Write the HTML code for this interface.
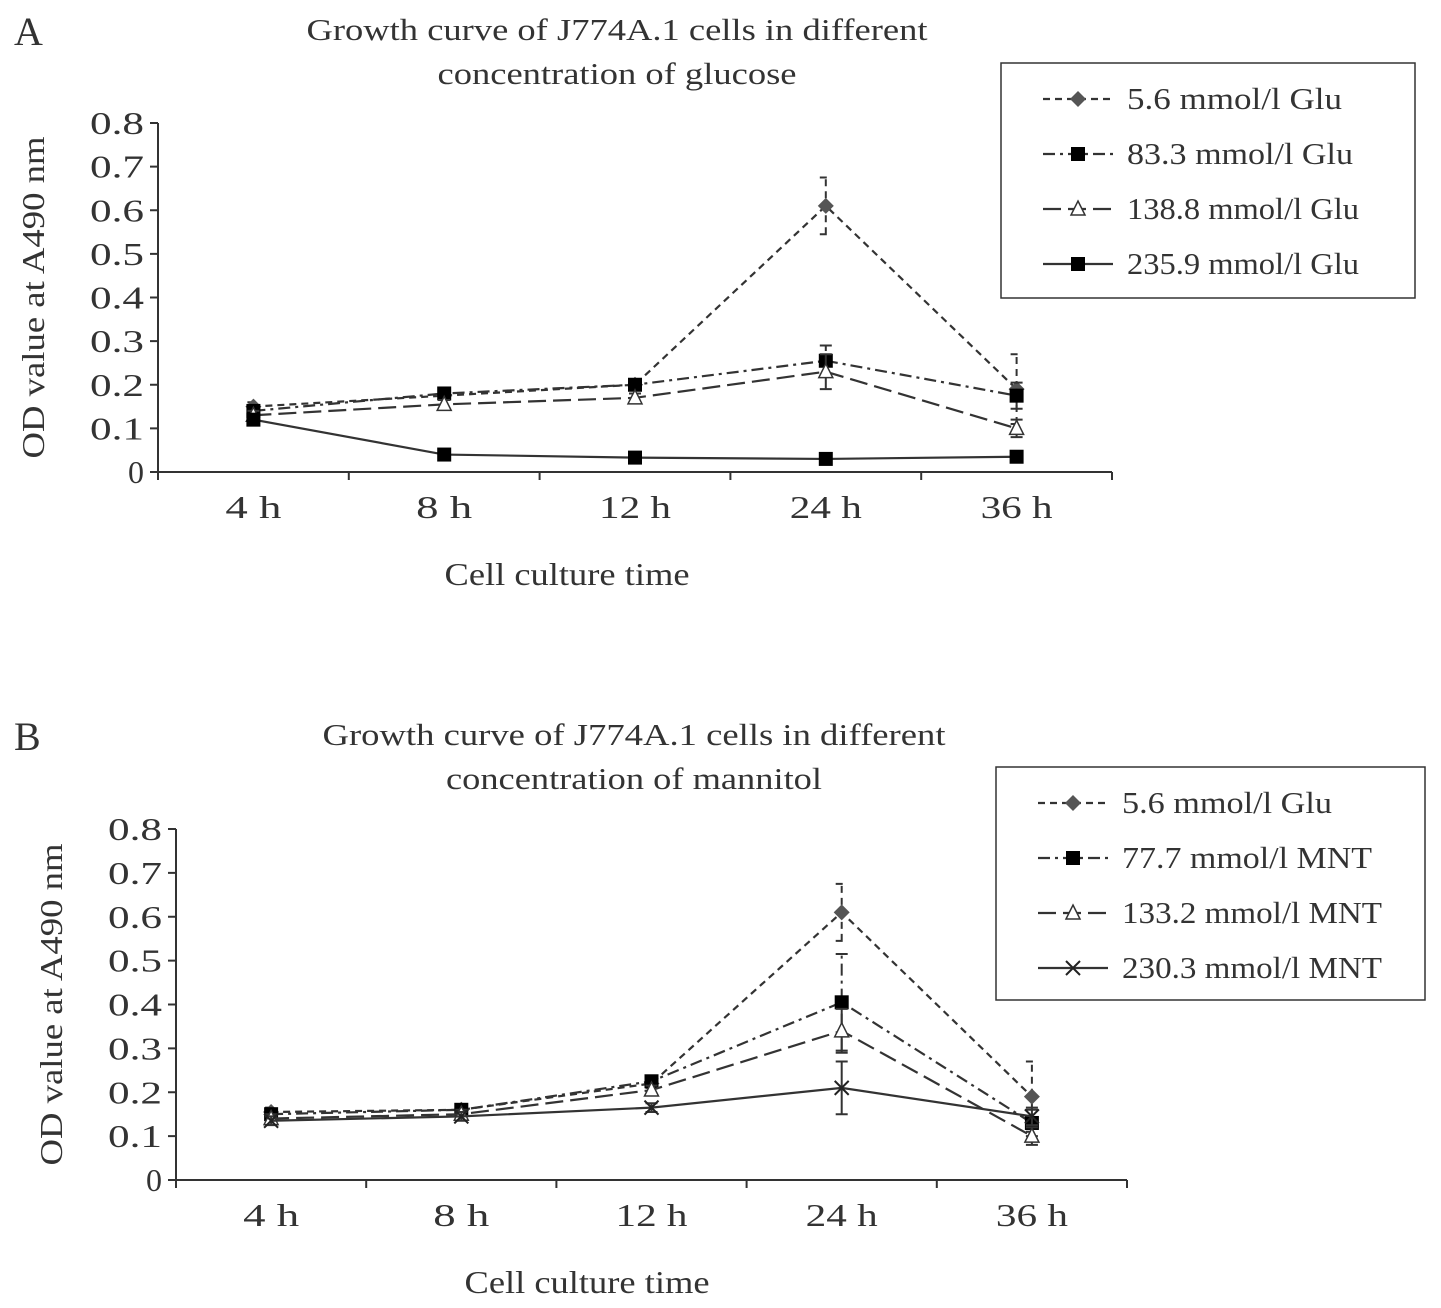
<!DOCTYPE html>
<html><head><meta charset="utf-8"><style>
body{margin:0;background:#fff}
svg text{font-family:"Liberation Serif",serif;fill:#333}
</style></head><body>
<svg id="s" width="1441" height="1303" xmlns="http://www.w3.org/2000/svg"></svg>
<script>
const categories=["4 h","8 h","12 h","24 h","36 h"];
const yTicks=[0,0.1,0.2,0.3,0.4,0.5,0.6,0.7,0.8];
const aNames=["5.6 mmol/l  Glu","83.3 mmol/l  Glu","138.8 mmol/l Glu","235.9 mmol/l Glu"];
const aS1=[0.15,0.175,0.2,0.61,0.19];
const aS2=[0.14,0.18,0.2,0.255,0.175];
const aS3=[0.13,0.155,0.17,0.23,0.1];
const aS4=[0.12,0.04,0.033,0.03,0.035];
const aErr1=[0.01,0.01,0.01,0.065,0.08];
const aErr2=[0.01,0.01,0.01,0.035,0.03];
const aErr3=[0.01,0.01,0.01,0.04,0.02];
const bNames=["5.6 mmol/l Glu","77.7 mmol/l MNT","133.2 mmol/l MNT","230.3 mmol/l MNT"];
const bS1=[0.155,0.16,0.22,0.61,0.19];
const bS2=[0.15,0.16,0.225,0.405,0.13];
const bS3=[0.14,0.15,0.205,0.34,0.1];
const bS4=[0.135,0.145,0.165,0.21,0.145];
const bErr1=[0.01,0.01,0.01,0.065,0.08];
const bErr2=[0.01,0.01,0.01,0.11,0.03];
const bErr3=[0.01,0.01,0.01,0.05,0.02];
const bErr4=[0.01,0.01,0.01,0.06,0.02];
const svg=document.getElementById('s');
const NS="http://www.w3.org/2000/svg";
function el(t,a,p){const e=document.createElementNS(NS,t);for(const k in a)e.setAttribute(k,a[k]);(p||svg).appendChild(e);return e;}
function txt(x,y,s,size,anchor,p,len){const e=el('text',{x:x,y:y,'font-size':size,'text-anchor':anchor||'middle'},p);
  if(len){e.setAttribute('textLength',len);e.setAttribute('lengthAdjust','spacingAndGlyphs');}
  e.textContent=s;return e;}
const dashes=["7,5","12,5,3,5","18,7",""];
function marker(g,k,x,y,mk){
  if(mk==='diamond')el('path',{d:`M${x} ${y-8}L${x+8} ${y}L${x} ${y+8}L${x-8} ${y}Z`,fill:'#555'},g);
  else if(mk==='square')el('rect',{x:x-7,y:y-7,width:14,height:14,fill:'#000'},g);
  else if(mk==='tri')el('path',{d:`M${x} ${y-8}L${x+7} ${y+6}L${x-7} ${y+6}Z`,fill:'#fff',stroke:'#333','stroke-width':1.5},g);
  else el('path',{d:`M${x-7} ${y-7}L${x+7} ${y+7}M${x+7} ${y-7}L${x-7} ${y+7}`,stroke:'#222','stroke-width':2},g);
}
function chart(o){
  const g=el('g',{},svg);
  
  
  const sy=v=>o.y0-(o.y0-o.y8)*v/0.8;
  const step=(o.x1-o.x0)/categories.length;
  const sx=i=>o.x0+step*(i+0.5);
  const lt=txt(14,o.letterY,o.letter,40,'start',g);
  
  o.title.forEach((t,i)=>{const e=txt(o.titleX,o.titleY+i*44,t,31,'middle',g,o.titleLen[i]);
    });
  el('line',{x1:o.x0,y1:o.y8,x2:o.x0,y2:o.y0,stroke:'#333','stroke-width':2},g);
  el('line',{x1:o.x0,y1:o.y0,x2:o.x1,y2:o.y0,stroke:'#333','stroke-width':2},g);
  yTicks.forEach(v=>{el('line',{x1:o.x0-8,y1:sy(v),x2:o.x0,y2:sy(v),stroke:'#333','stroke-width':2},g);
    const e=txt(o.x0-14,sy(v)+11,String(v),32,'end',g,String(v).length>1?54:null);
    });
  for(let i=0;i<=categories.length;i++)el('line',{x1:o.x0+step*i,y1:o.y0,x2:o.x0+step*i,y2:o.y0+8,stroke:'#333','stroke-width':2},g);
  categories.forEach((c,i)=>{const e=txt(sx(i),o.y0+46,c,32,'middle',g,c.length*16+8);
    });
  const xt=txt(o.xTitleX,o.y0+113,'Cell culture time',32,'middle',g,245);
  
  const yt=txt(0,0,'OD value at A490 nm',32,'middle',g,322);
  yt.setAttribute('transform',`translate(${o.x0-114},${(o.y0+o.y8)/2}) rotate(-90)`);
  
  o.series.forEach((s,k)=>{
    const sg=el('g',{},g);
    
    
    if(s.err)s.err.forEach((e,i)=>{const x=sx(i);
      el('path',{d:`M${x} ${sy(s.v[i]-e)}L${x} ${sy(s.v[i]+e)}M${x-6} ${sy(s.v[i]+e)}L${x+6} ${sy(s.v[i]+e)}M${x-6} ${sy(s.v[i]-e)}L${x+6} ${sy(s.v[i]-e)}`,stroke:'#333','stroke-width':2,fill:'none','stroke-dasharray':dashes[k]},sg);});
    el('polyline',{points:s.v.map((v,i)=>sx(i)+','+sy(v)).join(' '),fill:'none',stroke:'#333','stroke-width':2.2,'stroke-dasharray':dashes[k]},sg);
    s.v.forEach((v,i)=>marker(sg,k,sx(i),sy(v),s.mk));
  });
  const lg=el('g',{},g);
  
  el('rect',{x:o.lx,y:o.ly,width:o.lw,height:o.lh,fill:'#fff',stroke:'#333','stroke-width':1.5},lg);
  o.series.forEach((s,k)=>{const y=o.ly+36+k*55;
    const eg=el('g',{},lg);
    
    el('line',{x1:o.lx+42,y1:y,x2:o.lx+112,y2:y,stroke:'#333','stroke-width':2.2,'stroke-dasharray':dashes[k]},eg);
    marker(eg,k,o.lx+77,y,s.mk);
    txt(o.lx+126,y+10,s.name,31,'start',eg,o.legLen[k]);});
}
chart({name:'chart-a',letter:'A',letterY:45,title:['Growth curve of J774A.1 cells in different','concentration of glucose'],titleLen:[621,359],titleX:617,titleY:40,
  x0:158,x1:1112,y0:472,y8:123,xTitleX:567,lx:1001,ly:63,lw:414,lh:235,legLen:[215,226,232,232],
  series:[{v:aS1,err:aErr1,mk:'diamond',name:aNames[0]},{v:aS2,err:aErr2,mk:'square',name:aNames[1]},
    {v:aS3,err:aErr3,mk:'tri',name:aNames[2]},{v:aS4,mk:'square',name:aNames[3]}]});
chart({name:'chart-b',letter:'B',letterY:750,title:['Growth curve of J774A.1 cells in different','concentration of mannitol'],titleLen:[623,376],titleX:634,titleY:745,
  x0:176,x1:1127,y0:1180,y8:829,xTitleX:587,lx:996,ly:767,lw:429,lh:233,legLen:[210,250,260,260],
  series:[{v:bS1,err:bErr1,mk:'diamond',name:bNames[0]},{v:bS2,err:bErr2,mk:'square',name:bNames[1]},
    {v:bS3,err:bErr3,mk:'tri',name:bNames[2]},{v:bS4,err:bErr4,mk:'x',name:bNames[3]}]});
</script>
</body></html>
